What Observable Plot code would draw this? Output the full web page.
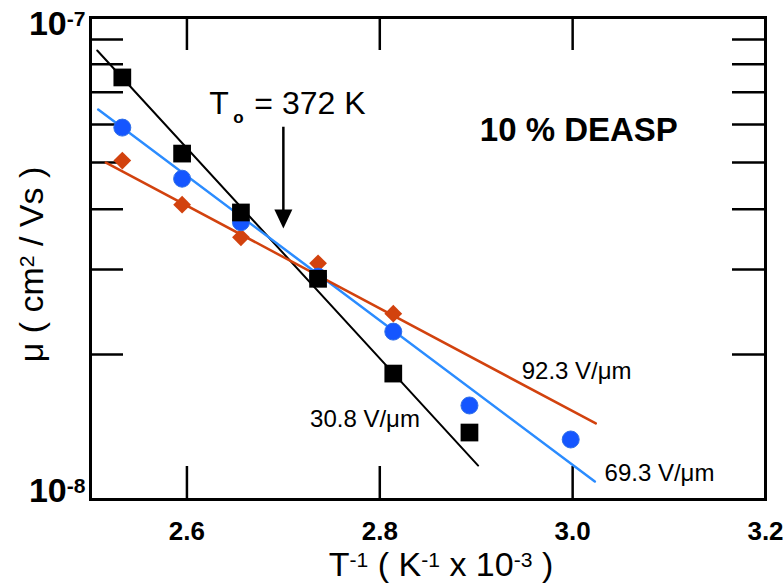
<!DOCTYPE html>
<html><head><meta charset="utf-8">
<script src="https://cdn.jsdelivr.net/npm/d3@7"></script>
<script src="https://cdn.jsdelivr.net/npm/@observablehq/plot@0.6"></script>
<style>body{margin:0;background:#fff;}</style>
</head><body><div id="chart"></div>
<script>
// Inverse temperature (1/T, K^-1 x 10^-3)
const invT = [2.533, 2.595, 2.656, 2.736, 2.814, 2.893, 2.998];
// Mobility (cm^2/Vs) for each field
const mu308 = [7.51e-8, 5.22e-8, 3.94e-8, 2.87e-8, 1.825e-8, 1.377e-8];
const mu693 = [5.91e-8, 4.63e-8, 3.76e-8, 2.90e-8, 2.23e-8, 1.567e-8, 1.332e-8];
const mu923 = [5.05e-8, 4.09e-8, 3.50e-8, 3.09e-8, 2.43e-8];
// Fit line end points
const fit308X = [2.507, 2.902], fit308Y = [8.54e-8, 1.176e-8];
const fit693X = [2.508, 3.023], fit693Y = [6.44e-8, 1.09e-8];
const fit923X = [2.516, 3.024], fit923Y = [5.00e-8, 1.438e-8];
// Ticks
const xTicks = [2.6, 2.8, 3.0];
const xLabels = [2.6, 2.8, 3.0, 3.2];
const yTicks = [2e-8, 3e-8, 4e-8, 5e-8, 6e-8, 7e-8, 8e-8, 9e-8];
const yLabelTop = 1e-7, yLabelBottom = 1e-8;
// Annotation
const T0x = 2.70, arrowTop = 5.92e-8, arrowBase = 3.94e-8, arrowTip = 3.65e-8;

const pts = (xs, ys) => ys.map((y, i) => ({x: xs[i], y}));
const s308 = pts(invT, mu308), s693 = pts(invT, mu693), s923 = pts(invT, mu923);
const f308 = pts(fit308X, fit308Y), f693 = pts(fit693X, fit693Y), f923 = pts(fit923X, fit923Y);

const W = 783, H = 584, ML = 90, MR = 18, MT = 17, MB = 85;
const PW = W - ML - MR, PH = H - MT - MB, TICK = 33;
const BLUE_L = "#2b8cff", BLUE_D = "#1556ff", RED = "#d2420e";
const FONT = "'Liberation Sans', Arial, Helvetica, sans-serif";
const triDown = {draw(ctx){ ctx.moveTo(0,0); ctx.lineTo(-9,-19); ctx.lineTo(9,-19); ctx.closePath(); }};
const expLabel = v => "10^{" + Math.round(Math.log10(v)) + "}";

const chart = Plot.plot({
  width: W, height: H,
  marginLeft: ML, marginRight: MR, marginTop: MT, marginBottom: MB,
  style: {fontFamily: FONT, background: "#fff", color: "#000"},
  x: {domain: [2.5, 3.2], axis: null},
  y: {type: "log", domain: [1e-8, 1e-7], axis: null},
  marks: [
    // inward ticks
    Plot.ruleX(xTicks, {insetTop: PH - TICK, stroke: "#000", strokeWidth: 2.5}),
    Plot.ruleX(xTicks, {insetBottom: PH - TICK, stroke: "#000", strokeWidth: 2.5}),
    Plot.ruleY(yTicks, {insetRight: PW - TICK, stroke: "#000", strokeWidth: 2.5}),
    Plot.ruleY(yTicks, {insetLeft: PW - TICK, stroke: "#000", strokeWidth: 2.5}),
    // tick labels
    Plot.text(xLabels, {x: d => d, frameAnchor: "bottom", textAnchor: "middle", lineAnchor: "top", dy: 22, text: d3.format(".1f"), fontSize: 26, fontWeight: "bold"}),
    Plot.text([yLabelTop], {y: d => d, frameAnchor: "left", textAnchor: "end", lineAnchor: "middle", dx: -5, dy: 7, text: expLabel, fontSize: 34, fontWeight: "bold"}),
    Plot.text([yLabelBottom], {y: d => d, frameAnchor: "left", textAnchor: "end", lineAnchor: "middle", dx: -5, dy: -8, text: expLabel, fontSize: 34, fontWeight: "bold"}),
    Plot.frame({stroke: "#000", strokeWidth: 3}),
    // fit lines
    Plot.line(f308, {x: "x", y: "y", stroke: "#000", strokeWidth: 2}),
    Plot.line(f693, {x: "x", y: "y", stroke: BLUE_L, strokeWidth: 2.5}),
    Plot.line(f923, {x: "x", y: "y", stroke: RED, strokeWidth: 2.5}),
    // data
    Plot.dot(s923, {x: "x", y: "y", symbol: "diamond2", r: 8, fill: RED, stroke: "none"}),
    Plot.dot(s693, {x: "x", y: "y", symbol: "circle", r: 8.5, fill: BLUE_D, stroke: "#2f6fe8", strokeWidth: 1}),
    Plot.dot(s308, {x: "x", y: "y", symbol: "square", r: 10, fill: "#000", stroke: "none"}),
    // arrow
    Plot.ruleX([T0x], {y1: arrowTop, y2: arrowBase, stroke: "#000", strokeWidth: 2.5}),
    Plot.dot([{x: T0x, y: arrowTip}], {x: "x", y: "y", symbol: triDown, fill: "#000", stroke: "none"}),
    // annotations
    Plot.text(["T"], {x: T0x, y: 6.32e-8, dx: -74, text: d => d, textAnchor: "start", lineAnchor: "bottom", fontSize: 32}),
    Plot.text(["o"], {x: T0x, y: 6.32e-8, dx: -50, dy: 9, text: d => d, textAnchor: "start", lineAnchor: "bottom", fontSize: 17, fontWeight: "bold"}),
    Plot.text(["= 372 K"], {x: T0x, y: 6.32e-8, dx: -29, text: d => d, textAnchor: "start", lineAnchor: "bottom", fontSize: 32}),
    Plot.text(["10 % DEASP"], {x: 2.9037, y: 5.555e-8, text: d => d, textAnchor: "start", lineAnchor: "bottom", fontSize: 33, fontWeight: "bold"}),
    Plot.text(["92.3 V/\u03BCm"], {x: 2.9472, y: 1.782e-8, text: d => d, textAnchor: "start", lineAnchor: "bottom", fontSize: 24}),
    Plot.text(["30.8 V/\u03BCm"], {x: 2.7277, y: 1.411e-8, text: d => d, textAnchor: "start", lineAnchor: "bottom", fontSize: 24}),
    Plot.text(["69.3 V/\u03BCm"], {x: 3.0331, y: 1.095e-8, text: d => d, textAnchor: "start", lineAnchor: "bottom", fontSize: 24}),
    // axis titles
    Plot.text(["T^{-1} ( K^{-1} x 10^{-3} )"], {frameAnchor: "bottom", textAnchor: "middle", dx: 13, dy: 76, text: d => d, lineAnchor: "bottom", fontSize: 34}),
    Plot.text(["\u03BC ( cm^{2} / Vs )"], {frameAnchor: "left", textAnchor: "middle", lineAnchor: "middle", dx: -58, dy: 6, rotate: -90, text: d => d, fontSize: 34})
  ]
});

// turn ^{...} into raised, smaller tspans
d3.select(chart).selectAll("text").each(function() {
  const el = this;
  const targets = el.querySelectorAll("tspan").length ? Array.from(el.querySelectorAll("tspan")) : [el];
  targets.forEach(t => {
    const s = t.textContent;
    if (!s.includes("^{")) return;
    const parts = s.split(/(\^\{[^}]*\})/).filter(p => p.length);
    t.textContent = "";
    for (const p of parts) {
      const ts = document.createElementNS("http://www.w3.org/2000/svg", "tspan");
      if (p.startsWith("^{")) {
        ts.textContent = p.slice(2, -1);
        ts.setAttribute("font-size", "62%");
        ts.setAttribute("baseline-shift", "42%");
      } else {
        ts.textContent = p;
      }
      t.appendChild(ts);
    }
  });
});
document.getElementById("chart").appendChild(chart);
</script>
</body></html>
